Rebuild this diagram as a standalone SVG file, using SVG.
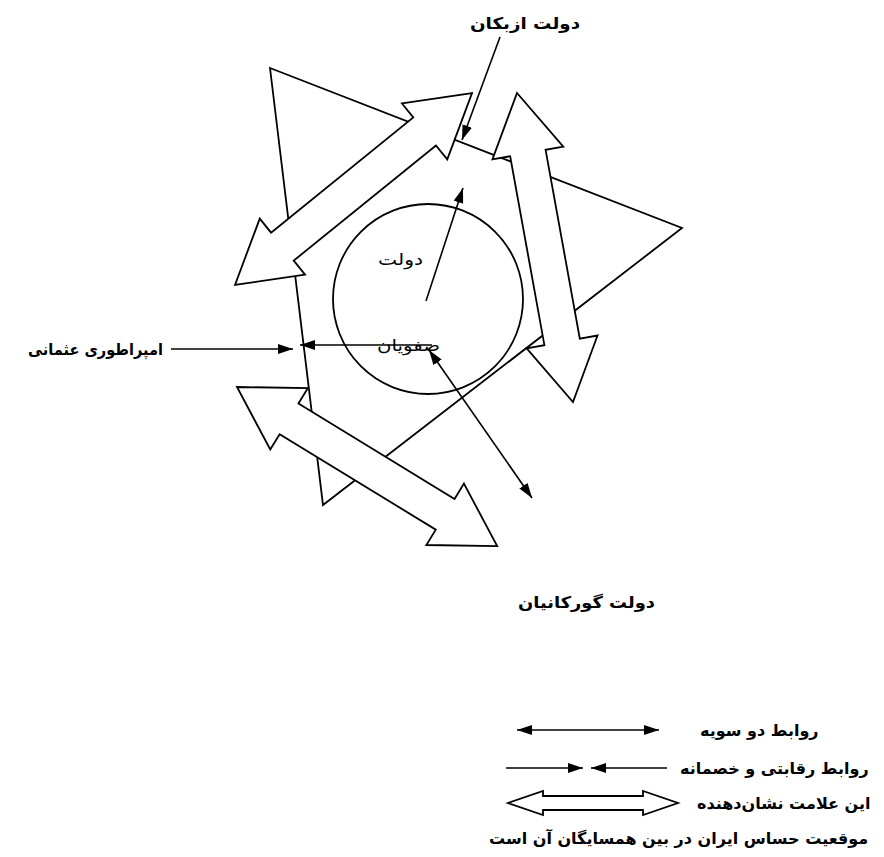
<svg xmlns="http://www.w3.org/2000/svg" width="884" height="857" viewBox="0 0 884 857">
<defs>
<style>
.shape{fill:#fff;stroke:#000;stroke-width:1.8;stroke-linejoin:miter}
.ln{fill:none;stroke:#000;stroke-width:1.6}
.lbl{font-family:"DejaVu Sans",sans-serif;font-size:16px;fill:#000}
.m{text-anchor:middle}
.s{text-anchor:start}
.b{font-weight:bold}
</style>
<marker id="ah" viewBox="0 0 15 10" refX="15" refY="5" markerWidth="15" markerHeight="10" markerUnits="userSpaceOnUse" orient="auto-start-reverse">
<path d="M0,0 L15,5 L0,10 z" fill="#000"/>
</marker>
<path id="dbl305" d="M0,0 L61,-36 L61,-18 L244,-18 L244,-36 L305,0 L244,36 L244,18 L61,18 L61,36 Z"/>
<path id="dbl314" d="M0,0 L61,-36 L61,-18 L253,-18 L253,-36 L314,0 L253,36 L253,18 L61,18 L61,36 Z"/>
</defs>
<rect width="884" height="857" fill="#fff"/>

<g id="triangle">
<polygon class="shape" points="270,68 682,228 323,505"/>
</g>
<g id="safavid">
<circle cx="428" cy="299" r="95" fill="none" stroke="#000" stroke-width="1.8"/>
<text class="lbl s" x="378" y="265" font-size="20" textLength="45" lengthAdjust="spacingAndGlyphs">دولت</text>
<text class="lbl s" x="377" y="351" font-size="20" textLength="63" lengthAdjust="spacingAndGlyphs">صفویان</text>
</g>

<g id="big-arrows">
<use href="#dbl305" class="shape" transform="translate(235,285) rotate(-39)"/>
<use href="#dbl314" class="shape" transform="translate(517,93) rotate(79.73)"/>
<use href="#dbl305" class="shape" transform="translate(237,387) rotate(31.45)"/>
</g>

<g id="connectors">
<line class="ln" x1="500" y1="37" x2="462" y2="140" marker-end="url(#ah)"/>
<line class="ln" x1="426" y1="301" x2="463" y2="188" marker-end="url(#ah)"/>
<line class="ln" x1="171" y1="349" x2="293" y2="349" marker-end="url(#ah)"/>
<line class="ln" x1="432" y1="345" x2="300" y2="345" marker-end="url(#ah)"/>
<line class="ln" x1="429" y1="350" x2="532" y2="498" marker-start="url(#ah)" marker-end="url(#ah)"/>
</g>

<g id="uzbek"><text class="lbl b s" x="470" y="29" font-size="18" textLength="110" lengthAdjust="spacingAndGlyphs">دولت ازبکان</text></g>
<g id="ottoman"><text class="lbl b s" x="28" y="355" font-size="18" textLength="135" lengthAdjust="spacingAndGlyphs">امپراطوری عثمانی</text></g>
<g id="gurkani"><text class="lbl b s" x="518" y="608" font-size="18" textLength="137" lengthAdjust="spacingAndGlyphs">دولت گورکانیان</text></g>

<g id="legend">
<line class="ln" x1="517" y1="730" x2="659" y2="730" marker-start="url(#ah)" marker-end="url(#ah)"/>
<line class="ln" x1="506" y1="768" x2="583" y2="768" marker-end="url(#ah)"/>
<line class="ln" x1="667" y1="768" x2="591" y2="768" marker-end="url(#ah)"/>
<path class="shape" d="M508,803 L543,791 L543,796 L643,796 L643,791 L678,803 L643,815 L643,810 L543,810 L543,815 Z"/>
<text class="lbl b s" x="700" y="736">روابط دو سویه</text>
<text class="lbl b s" x="680" y="774">روابط رقابتی و خصمانه</text>
<text class="lbl b s" x="697" y="809">این علامت نشان‌دهنده</text>
<text class="lbl b s" x="489" y="844">موقعیت حساس ایران در بین همسایگان آن است</text>
</g>
</svg>
